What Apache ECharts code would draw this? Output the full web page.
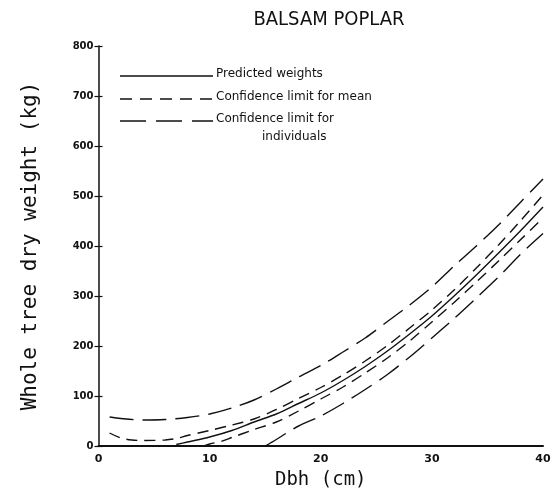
<!DOCTYPE html>
<html>
<head>
<meta charset="utf-8">
<script src="https://cdn.jsdelivr.net/npm/echarts@6/dist/echarts.min.js"></script>
<style>html,body{margin:0;padding:0;background:#fff;}#c{width:560px;height:491px;}</style>
</head>
<body>
<div id="c"></div>
<script>
// Dbh (cm) and whole tree dry weight (kg)
const dbhPred = [7,8,10,12,14,16,18,20,22,24,26,28,30,32,34,36,38,40];
const wPred   = [3,8,18,31,48,64,85,106,131,159,190,224,260,300,342,386,431,478];
const dbhMeanUp = [1,2,3,4,6,7,8,10,12,14,16,18,20,22,24,26,28,30,32,34,36,38,40];
const wMeanUp   = [26,16,12,11,12,15,21,31,42,54,73,95,117,142,170,201,236,272,312,356,402,451,502];
const dbhMeanLo = [9.5,10,11,12,14,16,18,20,22,24,26,28,30,32,34,36,38,40];
const wMeanLo   = [0,4,9,17,33,48,70,94,118,146,176,210,248,287,328,370,413,456];
const dbhIndUp = [1,2,4,6,8,10,12,14,16,18,20,22,24,26,28,30,32,34,36,38,40];
const wIndUp   = [58,55,52,53,57,64,76,92,114,138,161,188,216,249,282,318,360,400,442,488,534];
const dbhIndLo = [15,16,17,18,20,22,24,26,28,30,32,34,36,38,40];
const wIndLo   = [0,13,27,40,60,85,113,143,178,216,255,296,338,384,425];

const title = 'BALSAM POPLAR';
const xName = 'Dbh (cm)';
const yName = 'Whole tree dry weight (kg)';
const legendNames = ['Predicted weights', 'Confidence limit for mean', 'Confidence limit for', 'individuals'];

const zip = (xs, ys) => xs.map((x, i) => [x, ys[i]]);
const INK = '#111';
const solid = 'solid';
const meanDash = [11, 7];
const indDash = [24, 9];

function line(name, xs, ys, type) {
  return {
    name: name, type: 'line', data: zip(xs, ys), smooth: 0.3,
    showSymbol: false, symbol: 'none', silent: true,
    lineStyle: { color: INK, width: 1.4, type: type }
  };
}

const chart = echarts.init(document.getElementById('c'), null, { renderer: 'canvas' });
chart.setOption({
  animation: false,
  backgroundColor: '#fff',
  title: {
    text: title, left: 324, top: 5, textAlign: 'center',
    textStyle: { fontFamily: 'DejaVu Sans Condensed, DejaVu Sans', fontSize: 20, fontWeight: 'normal', color: INK }
  },
  grid: { left: 98.5, right: 17, top: 46, bottom: 45, containLabel: false, outerBoundsMode: 'none' },
  xAxis: {
    type: 'value', min: 0, max: 40, interval: 10,
    name: xName, nameLocation: 'middle', nameGap: 25,
    nameTextStyle: { fontFamily: 'DejaVu Sans Mono', fontSize: 19, color: INK },
    axisLine: { show: true, onZero: false, lineStyle: { color: INK, width: 2 } },
    axisTick: { show: false },
    axisLabel: { fontFamily: 'DejaVu Sans', fontWeight: 'bold', fontSize: 11, color: INK, margin: 8 },
    splitLine: { show: false }
  },
  yAxis: [{
    type: 'value', min: 0, max: 800, interval: 100,
    name: yName, nameLocation: 'middle', nameGap: 57, nameRotate: 90,
    nameTextStyle: { fontFamily: 'DejaVu Sans Mono', fontSize: 21, color: INK },
    axisLine: { show: true, lineStyle: { color: INK, width: 1.5 } },
    axisTick: { show: true, length: 4, lineStyle: { color: INK, width: 1.2 } },
    axisLabel: { fontFamily: 'DejaVu Sans', fontWeight: 'bold', fontSize: 10, color: INK, margin: 5 },
    splitLine: { show: false }
  }, {
    type: 'value', min: 0, max: 800, interval: 100, position: 'left',
    axisLine: { show: false },
    axisTick: { show: true, inside: true, length: 4, lineStyle: { color: INK, width: 1.2 } },
    axisLabel: { show: false },
    splitLine: { show: false }
  }],
  series: [
    line('Predicted weights', dbhPred, wPred, solid),
    line('Upper confidence limit for mean', dbhMeanUp, wMeanUp, meanDash),
    line('Lower confidence limit for mean', dbhMeanLo, wMeanLo, meanDash),
    line('Upper confidence limit for individuals', dbhIndUp, wIndUp, indDash),
    line('Lower confidence limit for individuals', dbhIndLo, wIndLo, indDash)
  ],
  graphic: [
    { type: 'line', shape: { x1: 120, y1: 76, x2: 213, y2: 76 }, style: { stroke: INK, lineWidth: 1.4 } },
    { type: 'line', shape: { x1: 120, y1: 99, x2: 213, y2: 99 }, style: { stroke: INK, lineWidth: 1.4, lineDash: [12, 8] } },
    { type: 'line', shape: { x1: 120, y1: 121, x2: 213, y2: 121 }, style: { stroke: INK, lineWidth: 1.4, lineDash: [26, 10] } },
    { type: 'text', left: 216, top: 68, style: { text: legendNames[0], font: '12px "DejaVu Sans"', fill: INK } },
    { type: 'text', left: 216, top: 91, style: { text: legendNames[1], font: '12px "DejaVu Sans"', fill: INK } },
    { type: 'text', left: 216, top: 113, style: { text: legendNames[2], font: '12px "DejaVu Sans"', fill: INK } },
    { type: 'text', left: 262, top: 131, style: { text: legendNames[3], font: '12px "DejaVu Sans"', fill: INK } }
  ]
});
</script>
</body>
</html>
